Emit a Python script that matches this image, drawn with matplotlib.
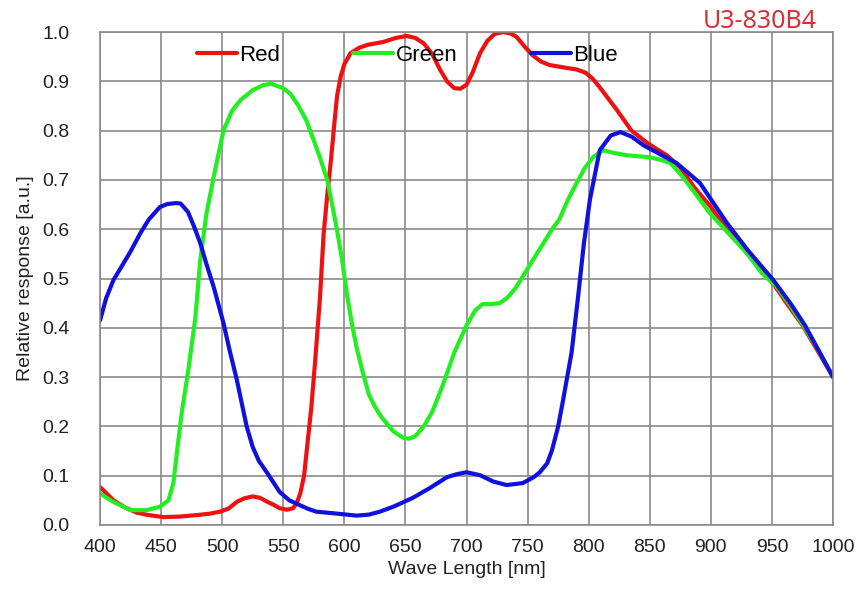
import numpy as np
import matplotlib
matplotlib.use("Agg")
import matplotlib.pyplot as plt

plt.rcParams['font.family'] = ['Liberation Sans', 'DejaVu Sans']

# Spectral response (wavelength nm, relative response)
red_wl = [400, 411, 420, 430, 440, 452, 465, 479, 490, 498, 505, 512, 518,
          525, 531, 537, 542, 547, 553, 558, 561, 564, 567, 570, 573, 576,
          580, 583, 586, 589, 592, 594, 597, 600, 605, 612, 619, 632, 642,
          651, 658, 665, 672, 678, 684, 690, 695, 700, 705, 711, 717, 723,
          730, 736, 741, 747, 754, 761, 768, 780, 790, 797, 803, 809, 816,
          823, 835, 848, 856, 864, 875, 886, 900, 913, 925, 940, 951, 962,
          975, 987, 1000]
red_val = [0.077, 0.05, 0.036, 0.025, 0.02, 0.016, 0.017, 0.02, 0.023, 0.027,
           0.033, 0.047, 0.054, 0.058, 0.055, 0.047, 0.041, 0.034, 0.031,
           0.034, 0.044, 0.065, 0.1, 0.17, 0.24, 0.33, 0.46, 0.59, 0.67,
           0.74, 0.82, 0.87, 0.91, 0.935, 0.957, 0.968, 0.974, 0.98, 0.988,
           0.992, 0.988, 0.977, 0.955, 0.925, 0.9, 0.886, 0.885, 0.893, 0.918,
           0.957, 0.982, 0.996, 1.0, 0.997, 0.99, 0.972, 0.953, 0.94, 0.933,
           0.928, 0.924, 0.918, 0.906, 0.888, 0.865, 0.842, 0.8, 0.775, 0.762,
           0.75, 0.725, 0.686, 0.645, 0.6, 0.565, 0.52, 0.49, 0.45, 0.405,
           0.355, 0.30]

green_wl = [400, 410, 425, 438, 449, 456, 460, 464, 467, 472, 478, 482, 487,
            493, 501, 508, 515, 525, 533, 540, 550, 556, 562, 569, 575, 580,
            586, 590, 594, 598, 602, 606, 610, 615, 620, 625, 630, 640, 648,
            653, 658, 665, 672, 680, 690, 700, 707, 713, 720, 727, 733, 740,
            750, 760, 770, 776, 783, 790, 797, 804, 812, 820, 831, 850, 860,
            867, 877, 888, 899, 915, 930, 942, 954, 965, 977, 988, 1000]
green_val = [0.064, 0.048, 0.03, 0.03, 0.037, 0.05, 0.085, 0.17, 0.23, 0.31,
             0.42, 0.537, 0.63, 0.706, 0.80, 0.84, 0.862, 0.882, 0.892, 0.895,
             0.886, 0.874, 0.852, 0.82, 0.78, 0.745, 0.70, 0.65, 0.598, 0.54,
             0.47, 0.41, 0.36, 0.31, 0.265, 0.24, 0.22, 0.19, 0.177, 0.175,
             0.18, 0.2, 0.23, 0.28, 0.35, 0.405, 0.435, 0.448, 0.448, 0.45,
             0.46, 0.48, 0.52, 0.56, 0.6, 0.62, 0.66, 0.693, 0.725, 0.747,
             0.76, 0.755, 0.75, 0.746, 0.74, 0.734, 0.706, 0.67, 0.633, 0.59,
             0.55, 0.51, 0.483, 0.445, 0.4, 0.355, 0.30]

blue_wl = [400, 405, 411, 419, 425, 433, 440, 449, 455, 462, 466, 472, 477,
           482, 487, 493, 501, 506, 512, 520, 525, 530, 537, 547, 555, 561,
           570, 577, 590, 602, 610, 620, 629, 640, 656, 670, 684, 692, 700,
           711, 722, 733, 746, 755, 760, 766, 770, 775, 779, 786, 791, 796,
           801, 809, 818, 826, 835, 845, 860, 872, 891, 913, 930, 951, 965,
           977, 988, 1000]
blue_val = [0.415, 0.46, 0.497, 0.53, 0.555, 0.592, 0.62, 0.645, 0.651, 0.653,
            0.652, 0.635, 0.605, 0.572, 0.53, 0.483, 0.41, 0.355, 0.294, 0.2,
            0.158, 0.13, 0.105, 0.067, 0.05, 0.043, 0.033, 0.027, 0.024,
            0.021, 0.019, 0.021, 0.027, 0.037, 0.055, 0.075, 0.097, 0.103,
            0.107, 0.101, 0.088, 0.081, 0.085, 0.097, 0.107, 0.125, 0.152, 0.2,
            0.253, 0.35, 0.456, 0.57, 0.66, 0.76, 0.79, 0.797, 0.788, 0.77,
            0.75, 0.734, 0.694, 0.613, 0.558, 0.497, 0.45, 0.405, 0.355, 0.30]

series = [("Red", red_wl, red_val, "#ee1111"),
          ("Green", green_wl, green_val, "#22ee22"),
          ("Blue", blue_wl, blue_val, "#1111dd")]

fig = plt.figure(figsize=(8.58, 5.93), dpi=100)
ax = fig.add_axes([0.1166, 0.1147, 0.8543, 0.8313])

for name, wl, val, col in series:
    ax.plot(wl, val, color=col, lw=3, label=name,
            solid_joinstyle='round', solid_capstyle='round')

ax.set_xlim(400, 1000)
ax.set_ylim(0, 1.0)
ax.set_xticks(np.arange(400, 1001, 50))
ax.set_yticks(np.arange(0, 1.01, 0.1))
ax.set_yticklabels([f"{v:.1f}" for v in np.arange(0, 1.01, 0.1)])
ax.grid(True, color="#8a8a8a", lw=1.2)
ax.set_axisbelow(True)
for s in ax.spines.values():
    s.set_color("#8a8a8a")
    s.set_linewidth(1.2)
ax.tick_params(length=0, labelsize=14, colors="#222222")
ax.tick_params(axis='y', pad=22)
ax.tick_params(axis='x', pad=10)

ax.set_xlabel("Wave Length [nm]", fontsize=14, color="#222222", labelpad=4)
ax.set_ylabel("Relative response [a.u.]", fontsize=14, color="#222222", labelpad=6)

ax.legend(loc="center left", bbox_to_anchor=(0.132, 0.953), ncol=3,
          frameon=False, fontsize=16, handlelength=1.8, handletextpad=0.1,
          columnspacing=3.3, borderpad=0, borderaxespad=0)

fig.text(0.952, 0.963, "U3-830B4", color="#d2323a", fontsize=18,
         ha="right", va="center", family=["Noto Sans", "DejaVu Sans"])

fig.savefig("out.png", dpi=100)
